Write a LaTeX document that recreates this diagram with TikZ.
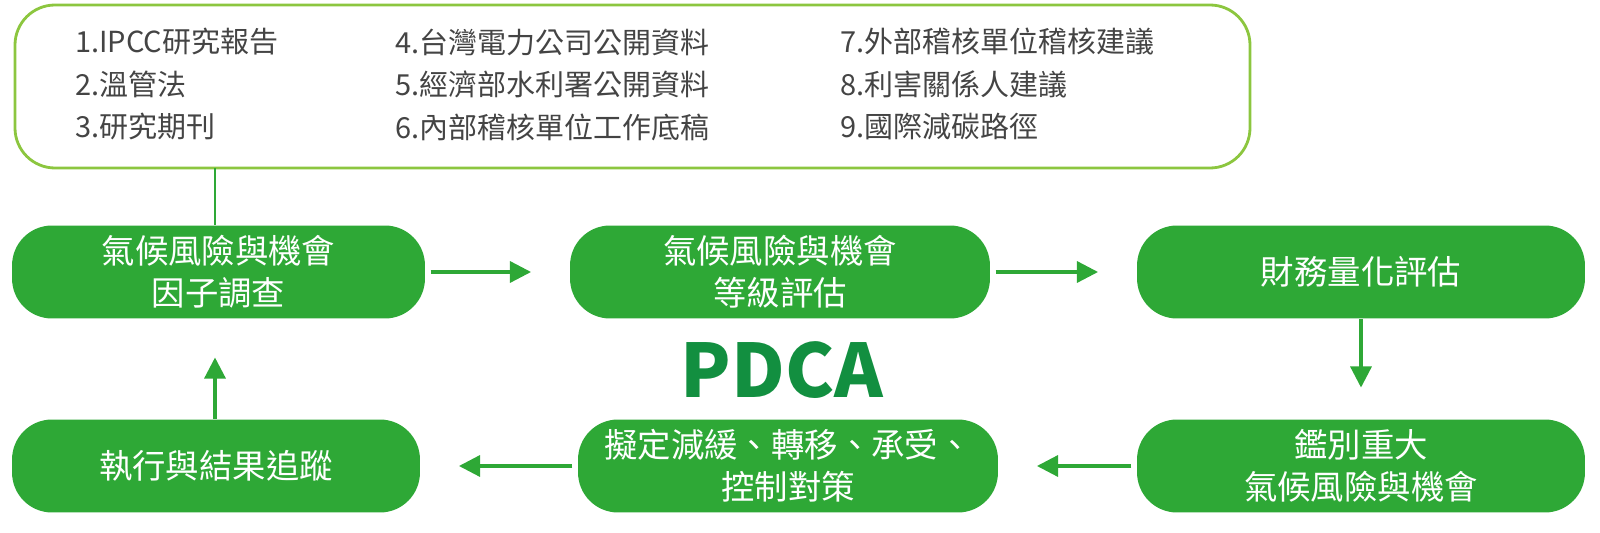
\documentclass[tikz,border=0pt]{standalone}
\usepackage{fontspec}
\setmainfont{Noto Sans CJK TC}
\usepackage{tikz}
\usetikzlibrary{arrows.meta}
\definecolor{boxgreen}{HTML}{2EA836}
\definecolor{pdcagreen}{HTML}{128F40}
\definecolor{frameline}{HTML}{8CC63F}
\definecolor{srctext}{HTML}{444444}
\tikzset{
  stepbox/.style={rounded corners=0.8cm, fill=boxgreen, text=white, align=center,
    minimum height=1.86cm, font=\fontsize{19}{24}\selectfont, inner sep=0pt},
  src/.style={anchor=west, text=srctext, font=\fontsize{16.5}{18}\selectfont, inner sep=0pt},
  flow/.style={boxgreen, line width=1.8pt, -{Triangle[length=12pt,width=12pt]}}
}
\begin{document}
\begin{tikzpicture}[x=0.02cm,y=-0.02cm]
          \useasboundingbox (0,0) rectangle (1600,533);
          \draw[frameline, line width=1.6pt, rounded corners=0.8cm] (15,5) rectangle (1250,168);
          \node[src] (s1) at (75,42)  {1.IPCC研究報告};
          \node[src] (s2) at (75,84)  {2.溫管法};
          \node[src] (s3) at (75,127) {3.研究期刊};
          \node[src] (s4) at (395,42)  {4.台灣電力公司公開資料};
          \node[src] (s5) at (395,84)  {5.經濟部水利署公開資料};
          \node[src] (s6) at (395,127) {6.內部稽核單位工作底稿};
          \node[src] (s7) at (840,42)  {7.外部稽核單位稽核建議};
          \node[src] (s8) at (840,84)  {8.利害關係人建議};
          \node[src] (s9) at (840,127) {9.國際減碳路徑};
          \coordinate (top) at (215,168);

          \node[stepbox, minimum width=8.26cm] (b1) at (218.5,272) {氣候風險與機會\\因子調查};
          \node[stepbox, minimum width=8.4cm]  (b2) at (780,272)   {氣候風險與機會\\等級評估};
          \node[stepbox, minimum width=8.96cm] (b3) at (1361,272)  {財務量化評估};
          \node[stepbox, minimum width=8.16cm] (b4) at (216,466)   {執行與結果追蹤};
          \node[stepbox, minimum width=8.4cm]  (b5) at (788,466)   {擬定減緩、轉移、承受、\\控制對策};
          \node[stepbox, minimum width=8.96cm] (b6) at (1361,466)  {鑑別重大\\氣候風險與機會};

          \node[text=pdcagreen, font=\fontsize{42}{42}\selectfont\bfseries] (pdca) at (782,370) {PDCA};

          \draw[boxgreen, line width=1.6pt] (top) -- (b1.north -| top);
          \draw[flow] ([xshift=3pt]b1.east) -- ([xshift=-22pt]b2.west);
          \draw[flow] ([xshift=3pt]b2.east) -- ([xshift=-22pt]b3.west);
          \draw[flow] (b3.south) -- ([yshift=18pt]b6.north);
          \draw[flow] ([xshift=-3pt]b6.west) -- ([xshift=22pt]b5.east);
          \draw[flow] ([xshift=-3pt]b5.west) -- ([xshift=22pt]b4.east);
          \draw[flow] (b4.north -| top) -- ([yshift=-22pt]b1.south -| top);
\end{tikzpicture}
\end{document}
